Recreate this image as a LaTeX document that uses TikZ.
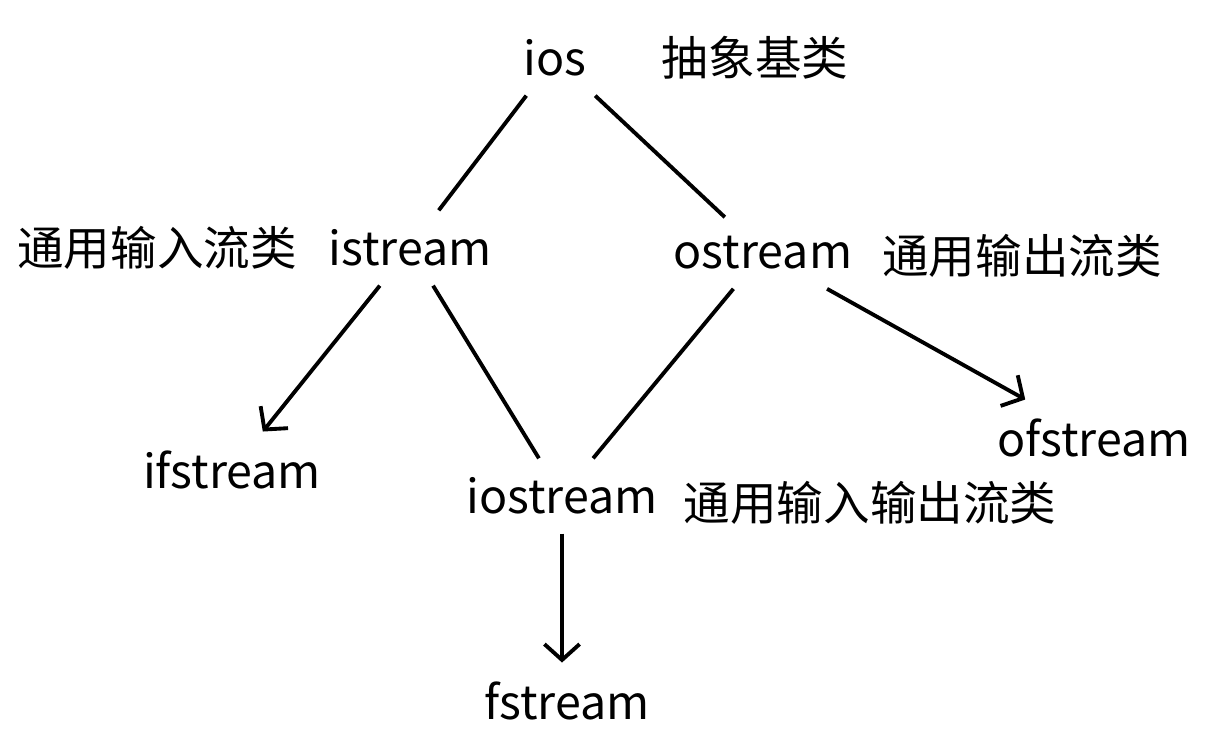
\documentclass[tikz,border=0pt]{standalone}
\usepackage{fontspec}
\setmainfont{Noto Sans CJK SC}
\usetikzlibrary{arrows.meta}
\begin{document}
\begin{tikzpicture}[x=0.02cm,y=-0.02cm,
  t/.style={font=\fontsize{26.5}{30}\selectfont, inner sep=2pt},
  n/.style={t, outer sep=9pt},
  e/.style={line width=2.2pt},
  a/.style={e, -{Straight Barb[length=9pt,width=20pt,line width=2.2pt]}}]
\useasboundingbox (0,0) rectangle (1219,742);
\node[n] (ios) at (555,58) {ios};
\node[t] (l1) at (755,58) {抽象基类};
\node[n] (is) at (410,248) {istream};
\node[t] (l2) at (157,248) {通用输入流类};
\node[n] (os) at (763,253) {ostream};
\node[t] (l3) at (1022,256) {通用输出流类};
\node[n] (ifs) at (232,470) {ifstream};
\node[n] (ios2) at (562,496) {iostream};
\node[t] (l4) at (870,503) {通用输入输出流类};
\node[n] (ofs) at (1094,438) {ofstream};
\node[n] (fs) at (567,701) {fstream};
\draw[e] (ios) -- (is);
\draw[e] (ios) -- (os);
\draw[a] (is) -- (ifs);
\draw[e] (is) -- (ios2);
\draw[e] (os) -- (ios2);
\draw[a] (os) -- (ofs);
\draw[a] (ios2) -- (ios2 |- fs.north);
\end{tikzpicture}
\end{document}
